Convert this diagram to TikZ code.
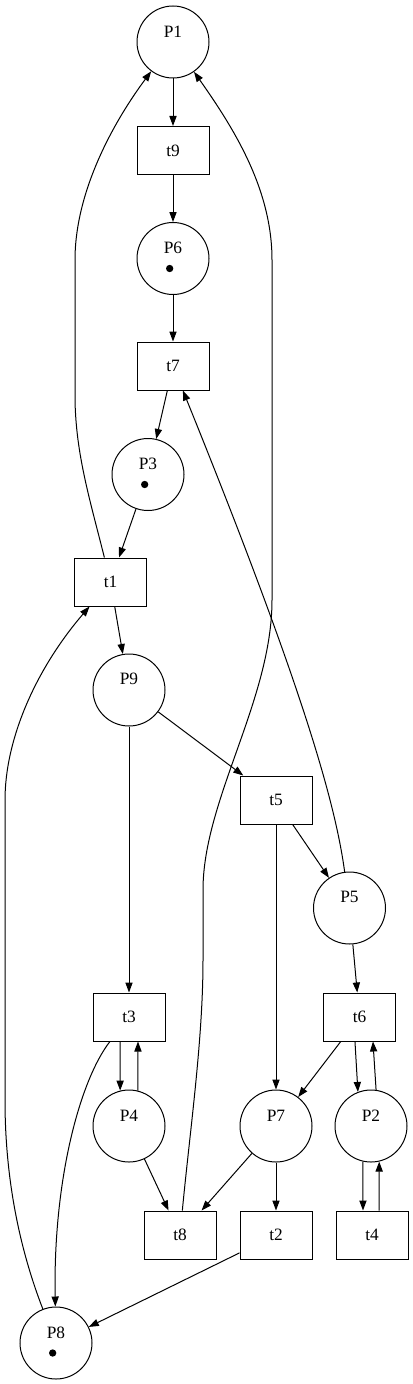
\documentclass[tikz,border=0pt]{standalone}
\usepackage{fontspec}
\setmainfont{Liberation Serif}
\usetikzlibrary{arrows.meta}

\begin{document}
\begin{tikzpicture}[x=0.75pt,y=-0.75pt,line width=0.75pt,font=\fontsize{13}{15}\selectfont,place/.style={circle,draw,inner sep=0pt,minimum size=54pt},trans/.style={rectangle,draw,inner sep=0pt,minimum width=54pt,minimum height=36pt},edg/.style={-{Triangle[length=7.5pt,width=5.4pt]}}]
\useasboundingbox (0,0) rectangle (413,1384);
\foreach \n/\x/\y in %
{P1/173/42,P6/173/258.5,P3/148/474.5,P9/129/690,P5/349.5/908,P4/129/1126,P7/276/1126,P2/371/1126,P8/56/1343} {
   \node[place,label={[name=\n-txt,yshift=8pt]center:\n}] (\n) at (\x,\y) {};
}
\foreach \n/\x/\y in %
{t9/173/150.5,t7/173/366,t1/110.5/582,t5/276/800,t3/129/1017,t6/359.5/1017,t8/180/1235,t2/276/1235,t4/372/1235} {
   \node[trans] (\n) at (\x,\y) {\n};
}
\foreach \n in {P6,P3,P8} {
   \fill ([xshift=-2.5pt,yshift=-7.5pt]\n.center) circle (2.75pt);
}
\foreach \a/\b in %
{P1/t9,t9/P6,P6/t7,t7/P3,P3/t1,t1/P9,P9/t5,P9/t3,t5/P5,t5/P7,P5/t6,t6/P7,P4/t8,P7/t8,P7/t2,t2/P8} {
   \draw[edg] (\a) -- (\b);
}
\draw[edg] ([xshift=-6.75pt]t3.south) -- (P4.104);
\draw[edg] (P4.76) -- ([xshift=6.75pt]t3.south);
\draw[edg] ([xshift=-3.4pt]t6.south) -- (P2.111);
\draw[edg] (P2.82) -- ([xshift=10.1pt]t6.south);
\draw[edg] (P2.257) -- ([xshift=-6.75pt]t4.north);
\draw[edg] ([xshift=5.25pt]t4.north) -- (P2.283);
\draw[edg] (P5) .. controls (335,800) and (300,680) .. (t7);
\draw[edg] (t3) .. controls (80,1080) and (53,1180) .. (P8);
\draw[edg] (t1) .. controls (90,500) and (76,455) .. (75,400) -- (75,260)
   .. controls (75,190) and (115,120) .. (P1);
\draw[edg] (t8) .. controls (190,1130) and (203,1040) .. (203,960) -- (203,890)
   .. controls (203,800) and (272,700) .. (272,600) -- (272,260)
   .. controls (272,190) and (235,130) .. (P1);
\draw[edg] (P8) .. controls (20,1250) and (5,1180) .. (5,1100) -- (5,800)
   .. controls (5,740) and (35,670) .. (t1);
\end{tikzpicture}
\end{document}
